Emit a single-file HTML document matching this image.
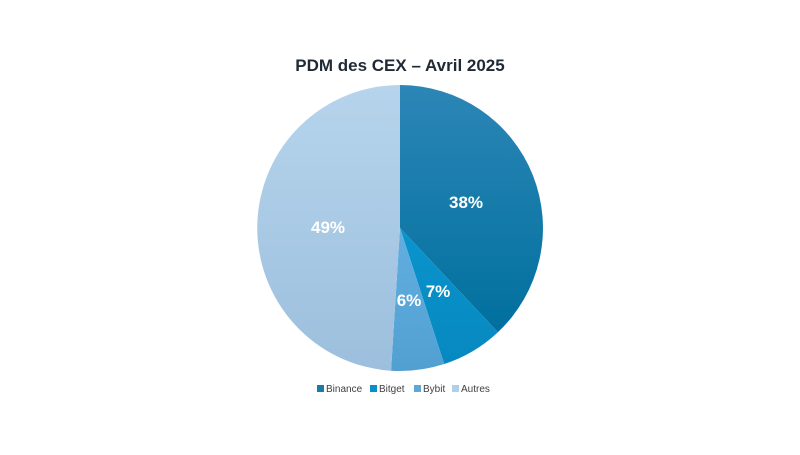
<!DOCTYPE html>
<html><head><style>
body{margin:0;background:#fff;width:800px;height:450px;overflow:hidden;font-family:"Liberation Sans",sans-serif}
</style></head><body>
<svg width="800" height="450" viewBox="0 0 800 450">
<defs>
<linearGradient id="g1" x1="0" y1="0" x2="0" y2="1"><stop offset="0" stop-color="#2c86b6"/><stop offset="1" stop-color="#00709e"/></linearGradient>
<linearGradient id="g2" x1="0" y1="0" x2="0" y2="1"><stop offset="0" stop-color="#0a94cc"/><stop offset="1" stop-color="#0788c0"/></linearGradient>
<linearGradient id="g3" x1="0" y1="0" x2="0" y2="1"><stop offset="0" stop-color="#62aee0"/><stop offset="1" stop-color="#52a0d2"/></linearGradient>
<linearGradient id="g4" x1="0" y1="0" x2="0" y2="1"><stop offset="0" stop-color="#b6d4ec"/><stop offset="1" stop-color="#9cbfdd"/></linearGradient>
</defs>
<text x="400" y="71" text-anchor="middle" font-size="17" font-weight="bold" fill="#1f2a36">PDM des CEX – Avril 2025</text>
<path d="M400,228 L400,85 A143,143 0 0 1 497.9,332.2 Z" fill="url(#g1)"/>
<path d="M400,228 L497.9,332.2 A143,143 0 0 1 444.2,364 Z" fill="url(#g2)"/>
<path d="M400,228 L444.2,364 A143,143 0 0 1 391,370.7 Z" fill="url(#g3)"/>
<path d="M400,228 L391,370.7 A143,143 0 0 1 400,85 Z" fill="url(#g4)"/>
<g fill="#fff" font-weight="bold" font-size="17" text-anchor="middle">
<text x="466" y="208">38%</text>
<text x="438" y="297">7%</text>
<text x="409" y="306">6%</text>
<text x="328" y="233">49%</text>
</g>
<g font-size="10" fill="#404040">
<rect x="317" y="385" width="7" height="7" fill="#1a7aa8"/><text x="326" y="392">Binance</text>
<rect x="370" y="385" width="7" height="7" fill="#0a8fc8"/><text x="379" y="392">Bitget</text>
<rect x="414" y="385" width="7" height="7" fill="#5aa8d8"/><text x="423" y="392">Bybit</text>
<rect x="452" y="385" width="7" height="7" fill="#b0d0ea"/><text x="461" y="392">Autres</text>
</g>
</svg>
</body></html>
